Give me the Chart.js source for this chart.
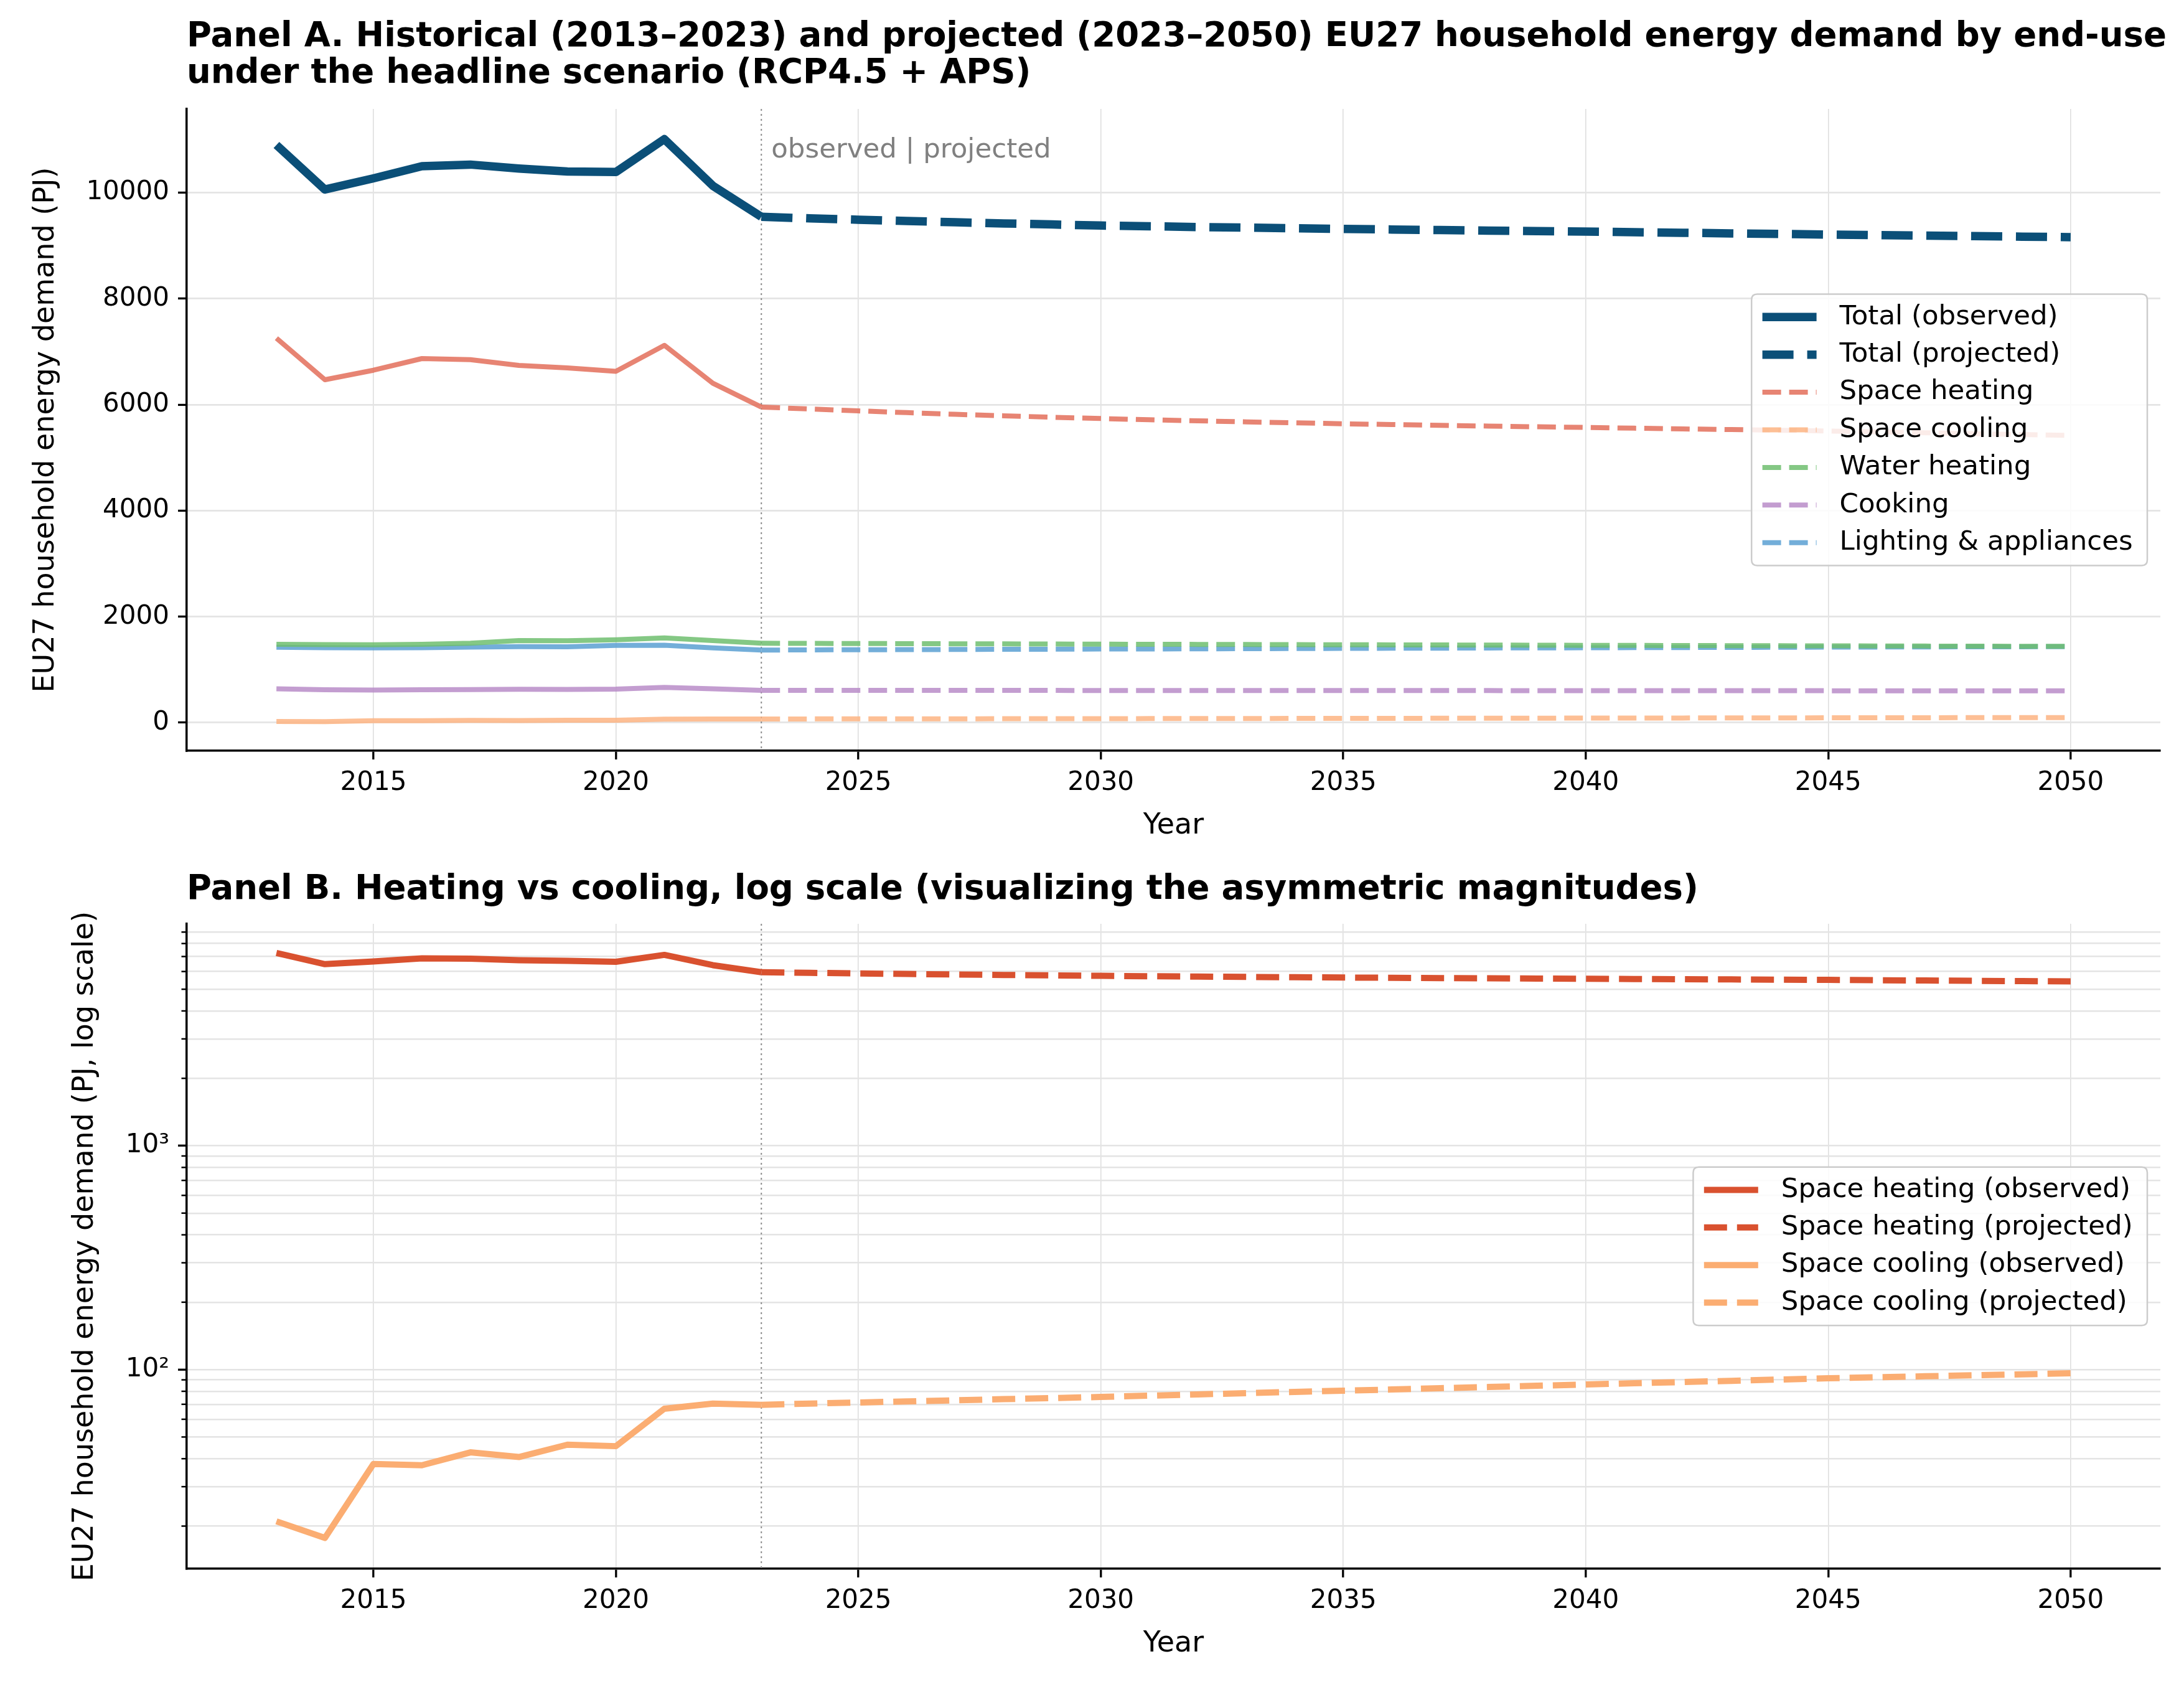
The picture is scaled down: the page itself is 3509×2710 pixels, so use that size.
<!DOCTYPE html>
<html>
<head>
<meta charset="utf-8">
<script src="https://cdn.jsdelivr.net/npm/chart.js@4/dist/chart.umd.min.js"></script>
<style>
html,body{margin:0;padding:0;background:#fff;}
canvas{position:absolute;left:0;}
</style>
</head>
<body>
<canvas id="panelA" width="3509" height="1355" style="top:0px;width:3509px;height:1355px"></canvas>
<canvas id="panelB" width="3509" height="1355" style="top:1355px;width:3509px;height:1355px"></canvas>
<script>
// ---------------- DATA ----------------
const obsYears  = [2013,2014,2015,2016,2017,2018,2019,2020,2021,2022,2023];
const projYears = [2023,2024,2025,2026,2027,2028,2029,2030,2031,2032,2033,2034,2035,2036,2037,2038,2039,2040,2041,2042,2043,2044,2045,2046,2047,2048,2049,2050];

const totalObs   = [10900,10060,10270,10500,10530,10455,10400,10390,11010,10130,9545];
const totalProj  = [9545,9515,9490,9466,9442,9420,9400,9380,9366,9352,9340,9328,9316,9305,9295,9285,9275,9265,9254,9243,9232,9221,9210,9200,9190,9180,9170,9160];

const heatingObs  = [7254,6470,6650,6870,6850,6740,6695,6630,7120,6405,5955];
const heatingProj = [5955,5918,5883,5850,5818,5790,5763,5738,5716,5695,5676,5658,5640,5625,5610,5596,5583,5570,5556,5543,5530,5517,5504,5487,5470,5453,5436,5420];

const coolingObs  = [21.0,17.7,37.9,37.4,42.7,40.7,46.2,45.5,66.9,70.5,69.6];
const coolingProj = [69.6,70.5,71.3,72.1,72.9,73.8,74.6,75.5,76.5,77.5,78.5,79.5,80.5,81.5,82.6,83.6,84.7,85.8,86.9,88.0,89.1,90.3,91.5,92.4,93.4,94.3,95.3,96.3];

const waterObs  = [1478,1472,1470,1480,1500,1550,1545,1565,1600,1550,1498];
const waterProj = [1498,1495,1493,1491,1488,1486,1484,1481,1479,1477,1475,1472,1470,1468,1466,1464,1461,1459,1457,1455,1453,1451,1449,1447,1445,1443,1441,1439];

const cookingObs  = [639,622,616,620,625,630,628,633,665,640,610];
const cookingProj = [610,610,609,609,608,608,608,607,607,607,606,606,606,605,605,605,604,604,604,603,603,603,602,602,601,601,601,600];

const lightingObs  = [1424,1415,1412,1415,1425,1435,1432,1458,1462,1410,1370];
const lightingProj = [1370,1373,1376,1378,1381,1384,1386,1389,1391,1394,1396,1399,1401,1404,1406,1409,1411,1413,1416,1418,1420,1423,1425,1427,1429,1431,1433,1435];

const xTicks = [2015,2020,2025,2030,2035,2040,2045,2050];
const yTicksA = [0,2000,4000,6000,8000,10000];
const yTicksB = [20,30,40,50,60,70,80,90,100,200,300,400,500,600,700,800,900,1000,2000,3000,4000,5000,6000,7000,8000,9000];
const logMajorValues = [100,1000];
const logMajorLabels = ['10\u00B2','10\u00B3'];

const splitYear = 2023;
const titleA = ['Panel A. Historical (2013\u20132023) and projected (2023\u20132050) EU27 household energy demand by end-use',
                'under the headline scenario (RCP4.5 + APS)'];
const titleB = ['Panel B. Heating vs cooling, log scale (visualizing the asymmetric magnitudes)'];

// ---------------- STYLE / HELPERS ----------------
const FONT = "'DejaVu Sans', 'Liberation Sans', sans-serif";
Chart.defaults.font.family = FONT;
Chart.defaults.color = '#000';
const W = 3509, H = 1355;

const pts = (xs, ys) => xs.map((x, i) => ({x: x, y: ys[i]}));

function lineDs(label, xs, ys, color, width, dash, legendLabel) {
  return {
    label: label, legendLabel: legendLabel || null,
    data: pts(xs, ys),
    borderColor: color, backgroundColor: color,
    borderWidth: width, borderDash: dash || [],
    pointRadius: 0, pointHoverRadius: 0, fill: false, tension: 0,
    borderCapStyle: 'butt', borderJoinStyle: 'round'
  };
}

function titlePlugin(lines, dys) {
  return { id: 'mplTitle', afterDraw(chart) {
    const {ctx, chartArea} = chart;
    ctx.save();
    ctx.font = 'bold 54.5px ' + FONT;
    ctx.fillStyle = '#000'; ctx.textAlign = 'left'; ctx.textBaseline = 'middle';
    lines.forEach((t, i) => ctx.fillText(t, chartArea.left, chartArea.top + dys[i]));
    ctx.restore();
  }};
}

function splitPlugin(year, text) {
  return { id: 'splitLine', beforeDatasetsDraw(chart) {
    const {ctx, chartArea: a} = chart;
    const px = chart.scales.x.getPixelForValue(year);
    ctx.save();
    ctx.strokeStyle = '#8c8c8c'; ctx.lineWidth = 2; ctx.setLineDash([3, 5]);
    ctx.beginPath(); ctx.moveTo(px, a.top); ctx.lineTo(px, a.bottom); ctx.stroke();
    if (text) {
      ctx.setLineDash([]);
      ctx.font = '43.5px ' + FONT; ctx.fillStyle = '#808080';
      ctx.textAlign = 'left'; ctx.textBaseline = 'middle';
      ctx.fillText(text, px + 16, a.top + 67);
    }
    ctx.restore();
  }};
}

const minorTickPlugin = { id: 'minorTicks', afterDraw(chart) {
  const y = chart.scales.y, ctx = chart.ctx;
  ctx.save(); ctx.strokeStyle = '#000'; ctx.lineWidth = 2.5;
  y.ticks.forEach(t => {
    if (logMajorValues.indexOf(t.value) < 0) {
      const py = y.getPixelForValue(t.value);
      ctx.beginPath(); ctx.moveTo(y.right - 8.5, py); ctx.lineTo(y.right, py); ctx.stroke();
    }
  });
  ctx.restore();
}};

const legendPlugin = { id: 'mplLegend', afterDraw(chart) {
  const items = chart.data.datasets.filter(d => d.legendLabel);
  const ctx = chart.ctx, a = chart.chartArea;
  const fs = 43.5, pad = 0.4 * fs, hl = 2 * fs, htp = 0.85 * fs, ls = 0.5 * fs, rowH = 60.4;
  ctx.save();
  ctx.font = fs + 'px ' + FONT;
  const tw = Math.max.apply(null, items.map(d => ctx.measureText(d.legendLabel).width));
  const bw = 2 * pad + hl + htp + tw + 6;
  const bh = items.length * rowH - ls + 2 * pad;
  const bx = a.right - 21 - bw;
  const by = (a.top + a.bottom) / 2 - bh / 2;
  const r = 9;
  ctx.beginPath();
  ctx.moveTo(bx + r, by); ctx.lineTo(bx + bw - r, by); ctx.quadraticCurveTo(bx + bw, by, bx + bw, by + r);
  ctx.lineTo(bx + bw, by + bh - r); ctx.quadraticCurveTo(bx + bw, by + bh, bx + bw - r, by + bh);
  ctx.lineTo(bx + r, by + bh); ctx.quadraticCurveTo(bx, by + bh, bx, by + bh - r);
  ctx.lineTo(bx, by + r); ctx.quadraticCurveTo(bx, by, bx + r, by); ctx.closePath();
  ctx.fillStyle = 'rgba(255,255,255,0.85)'; ctx.fill();
  ctx.strokeStyle = '#cccccc'; ctx.lineWidth = 2.5; ctx.stroke();
  items.forEach((d, i) => {
    const cy = by + pad + (rowH - ls) / 2 + i * rowH;
    ctx.beginPath();
    ctx.setLineDash(d.borderDash || []); ctx.lineCap = 'butt';
    ctx.strokeStyle = d.borderColor; ctx.lineWidth = d.borderWidth;
    ctx.moveTo(bx + pad, cy); ctx.lineTo(bx + pad + hl, cy); ctx.stroke();
    ctx.setLineDash([]);
    ctx.fillStyle = '#000'; ctx.textBaseline = 'middle'; ctx.textAlign = 'left';
    ctx.fillText(d.legendLabel, bx + pad + hl + htp, cy);
  });
  ctx.restore();
}};

function xScale(areaBottom, padBottom) {
  return {
    type: 'linear', min: 2011.15, max: 2051.85,
    afterBuildTicks: ax => { ax.ticks = xTicks.map(v => ({value: v})); },
    afterFit: s => { s.height = H - padBottom - areaBottom; },
    ticks: { callback: v => String(v), font: {size: 42}, padding: 13, maxRotation: 0, autoSkip: false, color: '#000' },
    grid: { color: '#dedede', lineWidth: 1.6, tickColor: '#000', tickWidth: 3.3, tickLength: 14, drawTicks: true },
    border: { display: true, color: '#000', width: 3.5 },
    title: { display: true, text: 'Year', font: {size: 46}, padding: {top: 0, bottom: 0}, color: '#000' }
  };
}

// ---------------- PANEL A ----------------
const areaA = {left: 300, top: 175, right: 3471, bottom: 1206};
const cTotal = '#0b4f78';
new Chart(document.getElementById('panelA'), {
  type: 'line',
  data: { datasets: [
    lineDs('Total (observed)', obsYears, totalObs, cTotal, 13.5, [], 'Total (observed)'),
    lineDs('Total (projected)', projYears, totalProj, cTotal, 13.5, [50, 22], 'Total (projected)'),
    lineDs('Space heating (observed)', obsYears, heatingObs, 'rgba(227,110,90,0.85)', 8, []),
    lineDs('Space heating', projYears, heatingProj, 'rgba(227,110,90,0.85)', 8, [30, 13], 'Space heating'),
    lineDs('Space cooling (observed)', obsYears, coolingObs, 'rgba(253,180,130,0.85)', 8, []),
    lineDs('Space cooling', projYears, coolingProj, 'rgba(253,180,130,0.85)', 8, [30, 13], 'Space cooling'),
    lineDs('Water heating (observed)', obsYears, waterObs, 'rgba(110,190,110,0.85)', 8, []),
    lineDs('Water heating', projYears, waterProj, 'rgba(110,190,110,0.85)', 8, [30, 13], 'Water heating'),
    lineDs('Cooking (observed)', obsYears, cookingObs, 'rgba(185,140,200,0.85)', 8, []),
    lineDs('Cooking', projYears, cookingProj, 'rgba(185,140,200,0.85)', 8, [30, 13], 'Cooking'),
    lineDs('Lighting & appliances (observed)', obsYears, lightingObs, 'rgba(90,160,210,0.85)', 8, []),
    lineDs('Lighting & appliances', projYears, lightingProj, 'rgba(90,160,210,0.85)', 8, [30, 13], 'Lighting & appliances')
  ]},
  options: {
    responsive: false, animation: false, devicePixelRatio: 1,
    layout: { padding: {top: areaA.top, left: 0, right: W - areaA.right, bottom: 0} },
    plugins: { legend: {display: false}, title: {display: false}, tooltip: {enabled: false} },
    events: [],
    scales: {
      x: xScale(areaA.bottom, 0),
      y: {
        type: 'linear', min: -530, max: 11580,
        afterBuildTicks: ax => { ax.ticks = yTicksA.map(v => ({value: v})); },
        afterFit: s => { s.width = areaA.left; },
        ticks: { callback: v => String(v), font: {size: 42}, padding: 14, autoSkip: false, color: '#000' },
        grid: { color: '#e4e4e4', lineWidth: 2.8, tickColor: '#000', tickWidth: 3.3, tickLength: 14 },
        border: { display: true, color: '#000', width: 3.5 },
        title: { display: true, text: 'EU27 household energy demand (PJ)', font: {size: 46}, padding: {top: 46, bottom: 0}, color: '#000' }
      }
    }
  },
  plugins: [titlePlugin(titleA, [-115, -56]), splitPlugin(splitYear, 'observed | projected'), legendPlugin]
});

// ---------------- PANEL B ----------------
const areaB = {left: 300, top: 129, right: 3471, bottom: 1165};
const padBottomB = 41;
const cHeatB = '#d9512f', cCoolB = '#fbad72';
new Chart(document.getElementById('panelB'), {
  type: 'line',
  data: { datasets: [
    lineDs('Space heating (observed)', obsYears, heatingObs, cHeatB, 10, [], 'Space heating (observed)'),
    lineDs('Space heating (projected)', projYears, heatingProj, cHeatB, 10, [37, 16], 'Space heating (projected)'),
    lineDs('Space cooling (observed)', obsYears, coolingObs, cCoolB, 10, [], 'Space cooling (observed)'),
    lineDs('Space cooling (projected)', projYears, coolingProj, cCoolB, 10, [37, 16], 'Space cooling (projected)')
  ]},
  options: {
    responsive: false, animation: false, devicePixelRatio: 1,
    layout: { padding: {top: areaB.top, left: 0, right: W - areaB.right, bottom: padBottomB} },
    plugins: { legend: {display: false}, title: {display: false}, tooltip: {enabled: false} },
    events: [],
    scales: {
      x: xScale(areaB.bottom, padBottomB),
      y: {
        type: 'logarithmic', min: 12.9, max: 9800,
        afterBuildTicks: ax => { ax.ticks = yTicksB.map(v => ({value: v, major: logMajorValues.indexOf(v) >= 0})); },
        afterFit: s => { s.width = areaB.left; },
        ticks: {
          callback: v => { const k = logMajorValues.indexOf(v); return k >= 0 ? logMajorLabels[k] : ''; },
          font: {size: 42}, padding: 14, autoSkip: false, color: '#000'
        },
        grid: {
          color: '#e4e4e4', lineWidth: 2.5,
          tickColor: ctx => (ctx.tick && logMajorValues.indexOf(ctx.tick.value) >= 0) ? '#000' : 'rgba(0,0,0,0)',
          tickWidth: 3.3, tickLength: 14
        },
        border: { display: true, color: '#000', width: 3.5 },
        title: { display: true, text: 'EU27 household energy demand (PJ, log scale)', font: {size: 46}, padding: {top: 109, bottom: 0}, color: '#000' }
      }
    }
  },
  plugins: [titlePlugin(titleB, [-54]), splitPlugin(splitYear, null), minorTickPlugin, legendPlugin]
});
</script>
</body>
</html>
